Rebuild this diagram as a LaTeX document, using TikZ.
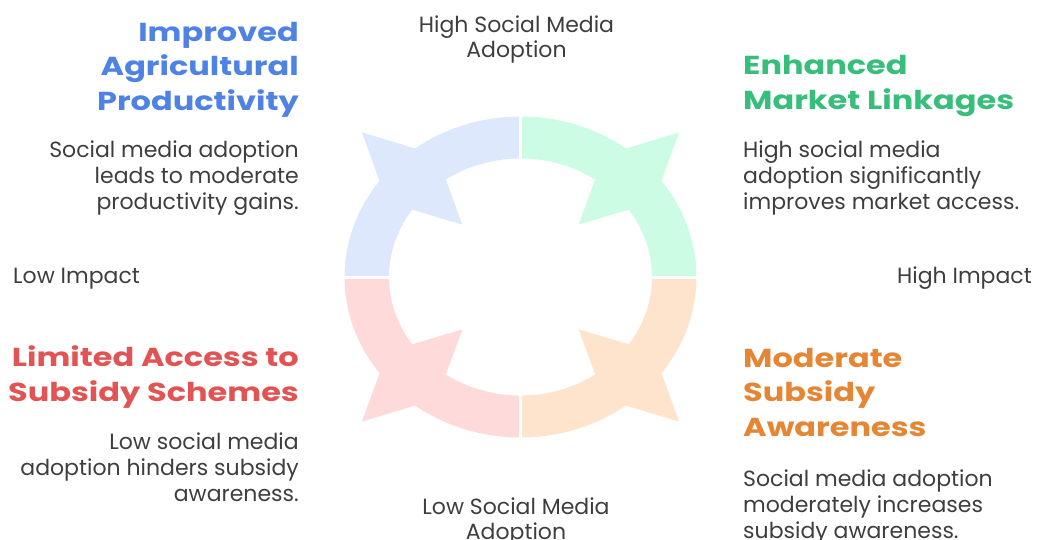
\documentclass[tikz,border=0pt]{standalone}
\usepackage{fontspec}
\setmainfont{Poppins}
\newfontfamily\headfont[FakeStretch=1.23]{Poppins}
\usepackage{tikz}

\definecolor{blueSeg}{RGB}{221,232,253}
\definecolor{greenSeg}{RGB}{204,253,228}
\definecolor{orangeSeg}{RGB}{254,228,205}
\definecolor{redSeg}{RGB}{255,218,218}
\definecolor{blueHead}{RGB}{78,130,228}
\definecolor{greenHead}{RGB}{54,190,122}
\definecolor{orangeHead}{RGB}{228,134,52}
\definecolor{redHead}{RGB}{226,84,84}
\definecolor{bodyGrey}{RGB}{62,62,62}

% ring centre and radii (outer / inner)
\def\cx{520.5}
\def\cy{277}
\def\ro{176}
\def\so{160.5}
\def\ri{131.5}
\def\si{118.5}

% one quarter of the ring with its crossing arrow, #1 = middle angle
\newcommand\ringpart[2]{%
  \fill[#2] ({\cx+\ro*cos(#1-45)},{\cy+\so*sin(#1-45)})
    arc[start angle=#1-45, end angle=#1-8.2, x radius=\ro, y radius=\so]
    -- ({\cx+1.275*\ro*cos(#1)},{\cy+1.275*\so*sin(#1)})
    -- ({\cx+\ro*cos(#1+8.2)},{\cy+\so*sin(#1+8.2)})
    arc[start angle=#1+8.2, end angle=#1+45, x radius=\ro, y radius=\so]
    -- ({\cx+\ri*cos(#1+45)},{\cy+\si*sin(#1+45)})
    arc[start angle=#1+45, end angle=#1+10.4, x radius=\ri, y radius=\si]
    -- ({\cx+0.625*\ri*cos(#1)},{\cy+0.625*\si*sin(#1)})
    -- ({\cx+\ri*cos(#1-10.4)},{\cy+\si*sin(#1-10.4)})
    arc[start angle=#1-10.4, end angle=#1-45, x radius=\ri, y radius=\si]
    -- cycle;}

% anchors are set on the last baseline of each block
\tikzset{
  head/.style={inner sep=0pt, font=\fontsize{26}{34.5}\selectfont\headfont\bfseries},
  body/.style={inner sep=0pt, text=bodyGrey, font=\fontsize{22}{26}\selectfont},
  axis/.style={inner sep=0pt, text=bodyGrey, font=\fontsize{22}{25}\selectfont, align=center}
}

\begin{document}
\begin{tikzpicture}[x=1pt, y=-1pt]
  \useasboundingbox (0,0) rectangle (1038,539);

  % the four quarters
  \foreach \ang/\col in {225/blueSeg, 315/greenSeg, 45/orangeSeg, 135/redSeg}
    \ringpart{\ang}{\col};
  \draw[white, line width=3pt] (\cx,105) -- (\cx,450);
  \draw[white, line width=3pt] (330,\cy) -- (711,\cy);

  % axis labels
  \node[axis, anchor=base] (hiAdopt) at (516.5,57) {High Social Media\\Adoption};
  \node[axis, anchor=base] (loAdopt) at (516,539) {Low Social Media\\Adoption};
  \node[axis, anchor=base west] (loImpact) at (13,283) {Low Impact};
  \node[axis, anchor=base east] (hiImpact) at (1032,283) {High Impact};

  % upper left
  \node[head, text=blueHead, align=right, anchor=base east] (prodHead) at (299,110)
    {Improved\\Agricultural\\Productivity};
  \node[body, align=right, anchor=base east] (prodText) at (299,209)
    {Social media adoption\\leads to moderate\\productivity gains.};

  % upper right
  \node[head, text=greenHead, align=left, anchor=base west] (marketHead) at (743,109)
    {Enhanced\\Market Linkages};
  \node[body, align=left, anchor=base west] (marketText) at (743,209)
    {High social media\\adoption significantly\\improves market access.};

  % lower left
  \node[head, text=redHead, align=right, anchor=base east] (limitHead) at (299,401)
    {Limited Access to\\Subsidy Schemes};
  \node[body, align=right, anchor=base east] (limitText) at (299,501)
    {Low social media\\adoption hinders subsidy\\awareness.};

  % lower right
  \node[head, text=orangeHead, align=left, anchor=base west] (awareHead) at (743,436)
    {Moderate\\Subsidy\\Awareness};
  \node[body, align=left, anchor=base west] (awareText) at (743,538)
    {Social media adoption\\moderately increases\\subsidy awareness.};
\end{tikzpicture}
\end{document}
